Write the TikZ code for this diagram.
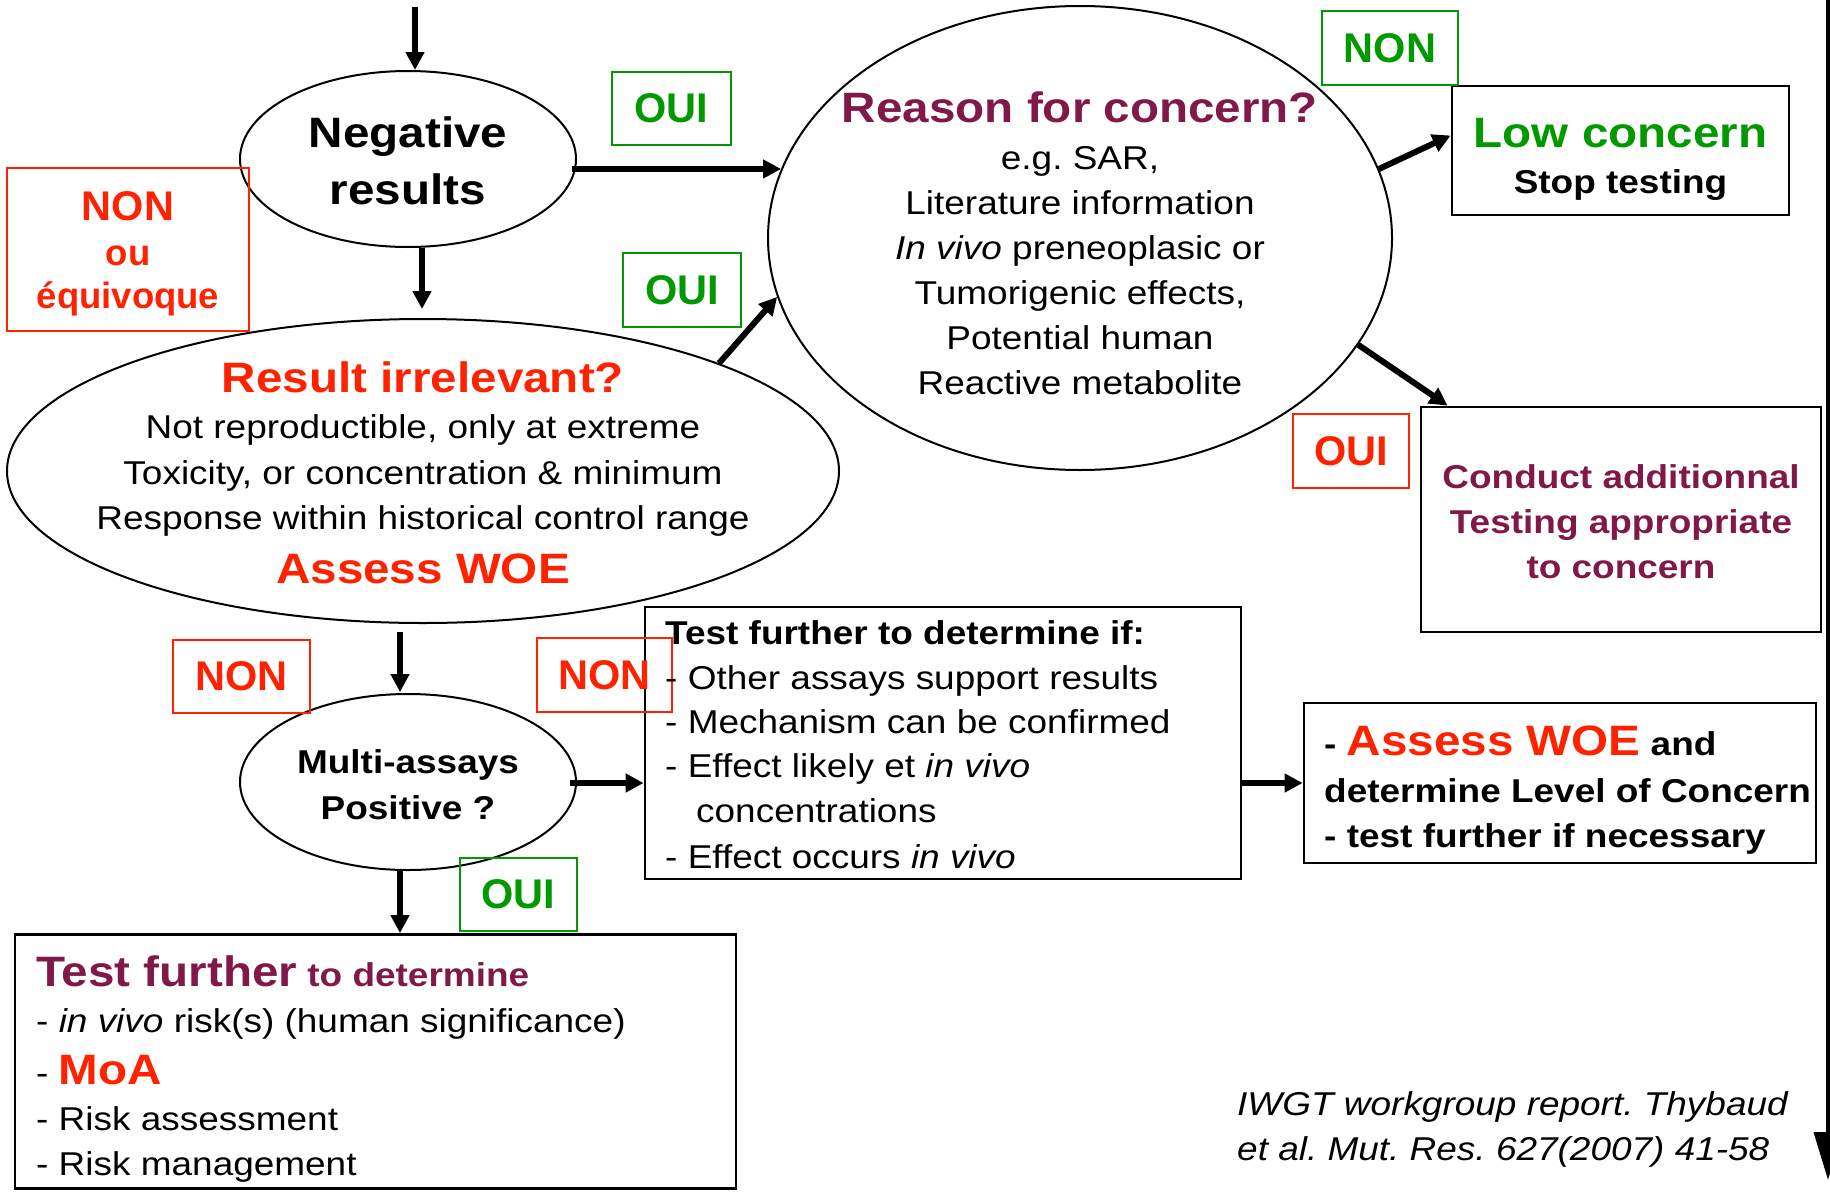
\documentclass[tikz,border=0pt]{standalone}
\usepackage{fontspec}
\setmainfont{Liberation Sans}[FakeStretch=1.12]
\newfontfamily\lblfont{Liberation Sans}
\usetikzlibrary{shapes.geometric,arrows.meta,calc}
\definecolor{myred}{RGB}{255,34,0}
\definecolor{mygreen}{RGB}{0,153,0}
\definecolor{mymaroon}{RGB}{128,24,72}
\newcommand\myfs[2]{\fontsize{#1}{#2}\selectfont}
\frenchspacing
\begin{document}
\begin{tikzpicture}[x=1pt,y=-1pt,
  arr/.style={line width=6pt,-{Triangle[length=18pt,width=18pt]}},
  oval/.style={ellipse,draw,line width=2pt,inner sep=0pt},
  bigbox/.style={draw,line width=2.8pt,inner sep=0pt},
  lbl/.style={draw=#1,text=#1,line width=1.8pt,inner sep=0pt,font=\lblfont\bfseries\myfs{41.5}{48}},
  tc/.style={inner sep=0pt,anchor=base},
  tl/.style={inner sep=0pt,anchor=base west},
  head/.style={font=\bfseries\myfs{42.5}{50}},
  reg/.style={font=\myfs{33}{40}},
  bld/.style={font=\bfseries\myfs{33}{40}}]
\useasboundingbox (0,0) rectangle (1830,1191);

% ellipses
\node[oval,minimum width=336pt,minimum height=176pt] (neg) at (408,159) {};
\node[oval,minimum width=832pt,minimum height=304pt] (res) at (423,471) {};
\node[oval,minimum width=624pt,minimum height=464pt] (reason) at (1080,238) {};
\node[oval,minimum width=336pt,minimum height=176pt] (multi) at (408,782) {};

% boxes
\node[bigbox,minimum width=337pt,minimum height=129pt] (low) at (1620.5,150.5) {};
\node[bigbox,minimum width=400pt,minimum height=225pt] (conduct) at (1621,519.5) {};
\node[bigbox,minimum width=596pt,minimum height=272pt] (testbox) at (943,743) {};
\node[bigbox,minimum width=512pt,minimum height=160pt] (assess) at (1560,783) {};
\node[bigbox,minimum width=721pt,minimum height=254pt] (bottom) at (375.5,1061.5) {};

% labels
\node[lbl=myred,minimum width=242pt,minimum height=163pt] (nonq) at (128,249.5) {};
\node[lbl=mygreen,minimum width=119pt,minimum height=73pt] (oui1) at (671.5,108.5) {OUI};
\node[lbl=mygreen,minimum width=118pt,minimum height=74pt] (oui2) at (682,290) {OUI};
\node[lbl=mygreen,minimum width=136pt,minimum height=74pt] (nong) at (1390,48) {NON};
\node[lbl=myred,minimum width=116pt,minimum height=74pt] (ouir) at (1351,451) {OUI};
\node[lbl=myred,minimum width=137pt,minimum height=73pt] (nonl) at (241.5,676.5) {NON};
\node[lbl=myred,minimum width=135pt,minimum height=74pt] (nonm) at (604.5,675) {NON};
\node[lbl=mygreen,minimum width=117pt,minimum height=73pt] (ouib) at (518.5,894.5) {OUI};

% NON ou equivoque text
\node[tc,text=myred,font=\lblfont\bfseries\myfs{41.5}{48}] (nonqa) at (128,220) {NON};
\node[tc,text=myred,font=\lblfont\bfseries\myfs{36.5}{42}] (nonqb) at (128,265) {ou};
\node[tc,text=myred,font=\lblfont\bfseries\myfs{36.5}{42}] (nonqc) at (128,308) {équivoque};

% Negative results
\node[tc,head] (nega) at (408,147) {Negative};
\node[tc,head] (negb) at (408,204) {results};

% Result irrelevant
\node[tc,head,text=myred] (resa) at (423,392) {Result irrelevant?};
\node[tc,reg] (resb) at (423,438) {Not reproductible, only at extreme};
\node[tc,reg] (resc) at (423,484) {Toxicity, or concentration \& minimum};
\node[tc,reg] (resd) at (423,529) {Response within historical control range};
\node[tc,head,text=myred] (rese) at (423,583) {Assess WOE};

% Reason for concern
\node[tc,head,text=mymaroon] (reaa) at (1080,122) {Reason for concern?};
\node[tc,reg] (reab) at (1080,169) {e.g. SAR,};
\node[tc,reg] (reac) at (1080,214) {Literature information};
\node[tc,reg] (nead) at (1080,259) {{\itshape In vivo} preneoplasic or};
\node[tc,reg] (reae) at (1080,304) {Tumorigenic effects,};
\node[tc,reg] (reaf) at (1080,349) {Potential human};
\node[tc,reg] (reag) at (1080,394) {Reactive metabolite};

% Low concern
\node[tc,head,text=mygreen] (lowa) at (1620.5,147) {Low concern};
\node[tc,bld] (lowb) at (1620.5,193) {Stop testing};

% Conduct
\node[tc,bld,text=mymaroon] (cona) at (1621,488) {Conduct additionnal};
\node[tc,bld,text=mymaroon] (conb) at (1621,533) {Testing appropriate};
\node[tc,bld,text=mymaroon] (conc) at (1621,578) {to concern};

% Multi-assays
\node[tc,bld] (mula) at (408,773) {Multi-assays};
\node[tc,bld] (mulb) at (408,819) {Positive ?};

% Test further box
\node[tl,bld] (tfa) at (665,644) {Test further to determine if:};
\node[tl,reg] (tfb) at (665,689) {- Other assays support results};
\node[tl,reg] (tfc) at (665,733) {- Mechanism can be confirmed};
\node[tl,reg] (tfd) at (665,777) {- Effect likely et {\itshape in vivo}};
\node[tl,reg] (tfe) at (696,822) {concentrations};
\node[tl,reg] (tff) at (665,868) {- Effect occurs {\itshape in vivo}};

% Assess box
\node[tl,bld] (asa) at (1324,755) {- \textcolor{myred}{\myfs{42.5}{50}Assess WOE} and};
\node[tl,bld] (asb) at (1324,802) {determine Level of Concern};
\node[tl,bld] (asc) at (1324,847) {- test further if necessary};

% Bottom box
\node[tl,bld,text=mymaroon] (bta) at (36,986) {{\myfs{42.5}{50}Test further} to determine};
\node[tl,reg] (btb) at (36,1032) {- {\itshape in vivo} risk(s) (human significance)};
\node[tl,reg] (btc) at (36,1084) {- \textcolor{myred}{\bfseries\myfs{42.5}{50}MoA}};
\node[tl,reg] (btd) at (36,1130) {- Risk assessment};
\node[tl,reg] (bte) at (36,1175) {- Risk management};

% citation
\node[tl,reg,font=\itshape\myfs{33}{40}] (cita) at (1237,1115) {IWGT workgroup report. Thybaud};
\node[tl,reg,font=\itshape\myfs{33}{40}] (citb) at (1237,1160) {et al. Mut. Res. 627(2007) 41-58};

% connectors
\coordinate (topstart) at (415,7);
\draw[arr] (topstart) -- (topstart |- neg.north);
\draw[arr] ($(neg.east |- reason.167)+(-5,0)$) -- (reason.167);
\draw[arr] ($(res.north |- neg.south)+(-1,0)$) -- ($(res.north)+(-1,-9)$);
\draw[arr] (res.20) -- (reason.191);
\draw[arr] (reason.13) -- ($(low.west)+(0,-15)$);
\draw[arr] (reason.-21) -- ($(conduct.north west)+(28,0)$);
\coordinate (resout) at ($(res.south)+(-23,8)$);
\draw[arr] (resout) -- ($(resout |- multi.north)+(0,-1)$);
\coordinate (multiout) at ($(multi.east)+(-7,1)$);
\draw[arr] (multiout) -- (multiout -| testbox.west);
\draw[arr] (testbox.east |- assess.west) -- (assess.west);
\coordinate (multidown) at ($(multi.south)+(-8,0)$);
\draw[arr] (multidown) -- (multidown |- bottom.north);

% right edge arrow
\coordinate (edgetop) at (1828,0);
\coordinate (edgebot) at (1828,1180);
\draw[line width=4pt,-{Triangle[length=48pt,width=28pt]}] (edgetop) -- (edgebot);
\end{tikzpicture}
\end{document}
